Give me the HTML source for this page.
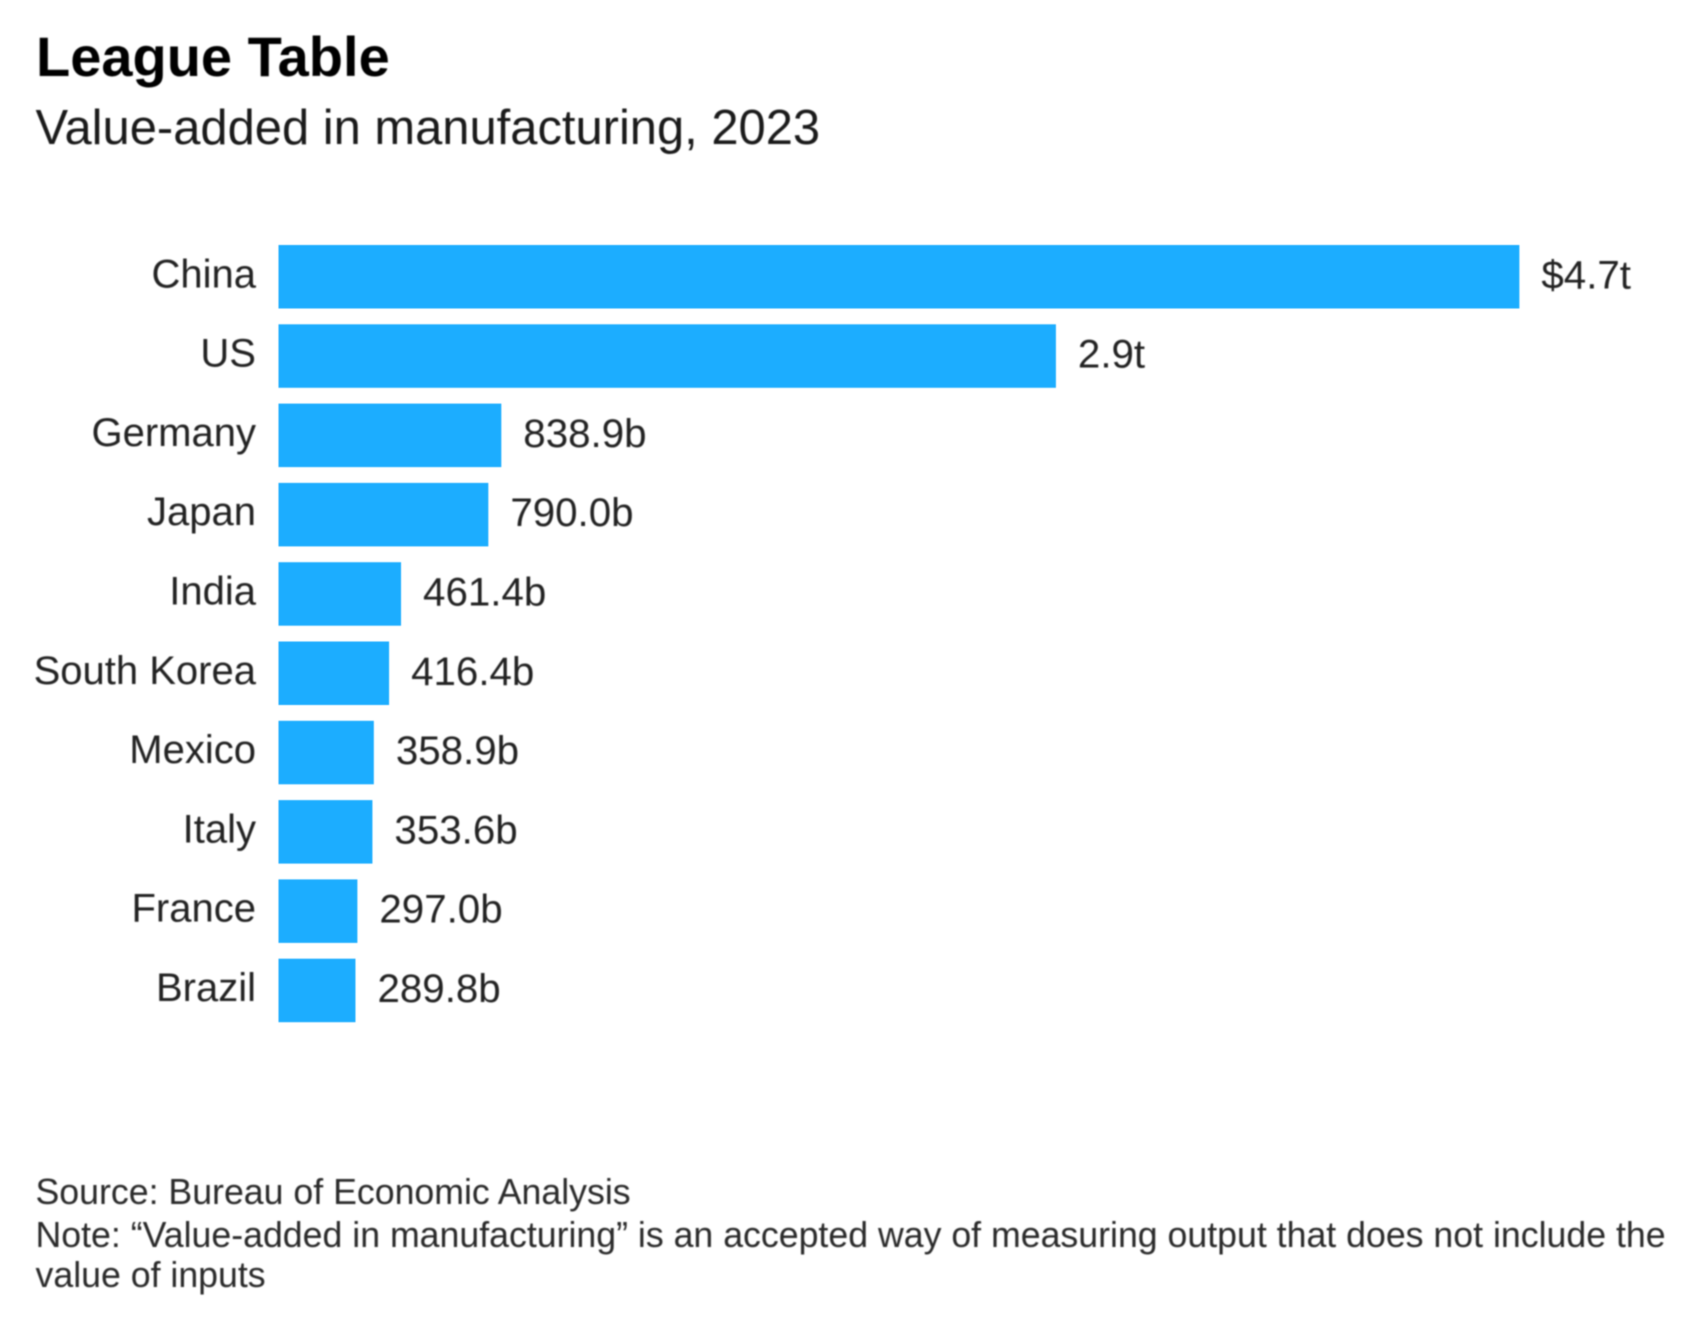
<!DOCTYPE html>
<html lang="en">
<head>
<meta charset="utf-8">
<title>League Table</title>
<style>
  html, body { margin: 0; padding: 0; background: #ffffff; }
  #chart { display: block; width: 1686px; height: 1322px; }
  text { font-family: "Liberation Sans", Arial, sans-serif; filter: blur(0.7px); }
  .title { font-size: 56px; font-weight: 700; fill: #000000; }
  .subtitle { font-size: 48.9px; fill: #1a1a1a; }
  .row-label, .value-label { font-size: 40px; fill: #222222; }
  .value-label { font-size: 40.3px; }
  .row-label { text-anchor: end; }
  .foot { font-size: 35.7px; fill: #2a2a2a; }
  rect.bar { filter: blur(0.4px); }
</style>
</head>
<body>
<svg id="chart" xmlns="http://www.w3.org/2000/svg" width="1686" height="1322" viewBox="0 0 1686 1322">
  <rect x="0" y="0" width="1686" height="1322" fill="#ffffff"></rect>
  <text class="title" x="36" y="76">League Table</text>
  <text class="subtitle" x="35.5" y="144">Value-added in manufacturing, 2023</text>
  <g id="row-labels"></g>
  <g id="bars"></g>
  <g id="value-labels"></g>
  <text class="foot" x="35.5" y="1204">Source: Bureau of Economic Analysis</text>
  <text class="foot" x="35.5" y="1247">Note: “Value-added in manufacturing” is an accepted way of measuring output that does not include the</text>
  <text class="foot" x="35.5" y="1287">value of inputs</text>
</svg>
<script>
const categories = ["China", "US", "Germany", "Japan", "India", "South Korea", "Mexico", "Italy", "France", "Brazil"];
const valuesBillions = [4672, 2927, 838.9, 790.0, 461.4, 416.4, 358.9, 353.6, 297.0, 289.8];
const valueLabels = ["$4.7t", "2.9t", "838.9b", "790.0b", "461.4b", "416.4b", "358.9b", "353.6b", "297.0b", "289.8b"];

const SVG_NS = "http://www.w3.org/2000/svg";
const plotLeft = 278.5;
const pxPerBillion = 0.2656;
const firstRowTop = 245;
const rowPitch = 79.3;
const barHeight = 63.5;
const labelGap = 22;

function xScale(v) { return plotLeft + v * pxPerBillion; }
function rowTop(i) { return firstRowTop + i * rowPitch; }

const barsGroup = document.getElementById("bars");
const rowLabelsGroup = document.getElementById("row-labels");
const valueLabelsGroup = document.getElementById("value-labels");

categories.forEach(function (name, i) {
  const slug = name.toLowerCase().replace(/\s+/g, "-");
  const top = rowTop(i);
  const mid = top + barHeight / 2;
  const right = xScale(valuesBillions[i]);

  const bar = document.createElementNS(SVG_NS, "rect");
  bar.setAttribute("class", "bar");
  bar.setAttribute("x", plotLeft);
  bar.setAttribute("y", top);
  bar.setAttribute("width", right - plotLeft);
  bar.setAttribute("height", barHeight);
  bar.setAttribute("fill", "#1cadff");
  
  
  barsGroup.appendChild(bar);

  const label = document.createElementNS(SVG_NS, "text");
  label.setAttribute("class", "row-label");
  label.setAttribute("x", 256);
  label.setAttribute("y", mid + 10.5);
  label.textContent = name;
  
  
  rowLabelsGroup.appendChild(label);

  const value = document.createElementNS(SVG_NS, "text");
  value.setAttribute("class", "value-label");
  value.setAttribute("x", right + labelGap);
  value.setAttribute("y", mid + 11.5);
  value.textContent = valueLabels[i];
  
  
  valueLabelsGroup.appendChild(value);
});
</script>
</body>
</html>
